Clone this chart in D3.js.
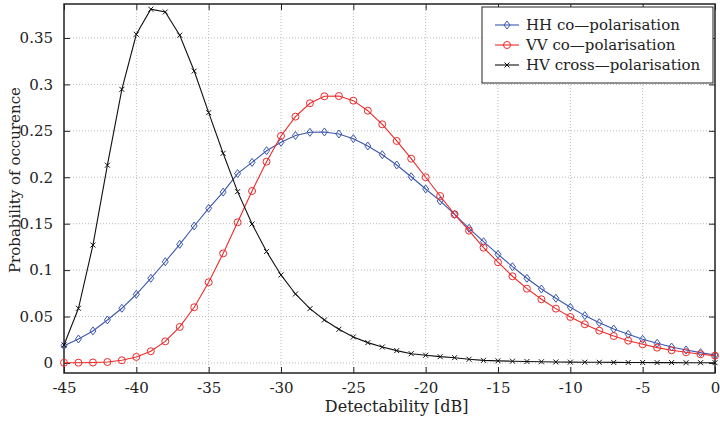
<!DOCTYPE html>
<html lang="en">
<head>
<meta charset="UTF-8">
<title>Detectability distribution</title>
<script src="https://cdn.jsdelivr.net/npm/d3@7"></script>
<style>
    body { margin: 0; background: #fff; }
    svg text { font-family: "DejaVu Serif", serif; fill: #222; }
</style>
</head>
<body>
<div id="chart"></div>
<script>
// detectability values, one sample per dB
const detectability = d3.range(-45, 1);

const hhValues = [0.0186, 0.0258, 0.0345, 0.0463, 0.0589, 0.074, 0.0912, 0.109, 0.1278, 0.1475,
    0.1666, 0.184, 0.204, 0.216, 0.2286, 0.2377, 0.245, 0.2484, 0.2488, 0.2466,
    0.2416, 0.2337, 0.2243, 0.2132, 0.2006, 0.1874, 0.1745, 0.160, 0.145, 0.1306,
    0.117, 0.1037, 0.0912, 0.0797, 0.0697, 0.060, 0.051, 0.0434, 0.0366, 0.0309,
    0.0255, 0.0212, 0.0172, 0.014, 0.0111, 0.0086];

const vvValues = [0.0002, 0.0003, 0.0005, 0.001, 0.0029, 0.0065, 0.0126, 0.0233, 0.0388, 0.060,
    0.0869, 0.118, 0.1515, 0.1852, 0.2168, 0.2445, 0.2653, 0.2797, 0.2872, 0.2875,
    0.2825, 0.2717, 0.257, 0.2391, 0.22, 0.20, 0.1798, 0.160, 0.1425, 0.1242,
    0.1085, 0.0934, 0.080, 0.0686, 0.0585, 0.0495, 0.0417, 0.0348, 0.029, 0.024,
    0.0201, 0.0165, 0.0137, 0.0115, 0.0094, 0.0079];

const hvValues = [0.0194, 0.0589, 0.127, 0.213, 0.2947, 0.354, 0.381, 0.378, 0.353, 0.3144,
    0.2696, 0.2258, 0.1845, 0.1497, 0.12, 0.0948, 0.0743, 0.0585, 0.0463, 0.0363,
    0.028, 0.0219, 0.0172, 0.0133, 0.010, 0.0083, 0.0068, 0.0057, 0.004, 0.0028,
    0.0023, 0.0019, 0.0016, 0.0013, 0.0011, 0.0009, 0.0008, 0.0007, 0.0006, 0.0005,
    0.0005, 0.0004, 0.0004, 0.0003, 0.0003, 0.0003];

const xTicks = [-45, -40, -35, -30, -25, -20, -15, -10, -5, 0];
const yTicks = [0, 0.05, 0.1, 0.15, 0.2, 0.25, 0.3, 0.35];

const seriesNames = ["HH co\u2014polarisation", "VV co\u2014polarisation", "HV cross\u2014polarisation"];
const seriesColors = ["#3a57b0", "#ee2a2a", "#111111"];
const seriesMarkers = ["diamond", "circle", "cross"];

const width = 720, height = 422;
const margin = { top: 4, right: 5, bottom: 49, left: 64 };
const fontFamily = "'DejaVu Serif', serif";

const svg = d3.select("#chart").append("svg")
    .attr("width", width)
    .attr("height", height);

const x = d3.scaleLinear().domain([-45, 0]).range([margin.left, width - margin.right]);
const y = d3.scaleLinear().domain([-0.0108, 0.3866]).range([height - margin.bottom, margin.top]);

const plotW = width - margin.left - margin.right;
const plotH = height - margin.top - margin.bottom;

// dotted grid
svg.append("g").selectAll("line")
    .data(xTicks.slice(1, -1))
    .enter().append("line")
    .attr("x1", d => x(d)).attr("x2", d => x(d))
    .attr("y1", margin.top).attr("y2", height - margin.bottom)
    .attr("stroke", "#bbb").attr("stroke-width", 1).attr("stroke-dasharray", "1,2");

svg.append("g").selectAll("line")
    .data(yTicks)
    .enter().append("line")
    .attr("x1", margin.left).attr("x2", width - margin.right)
    .attr("y1", d => y(d)).attr("y2", d => y(d))
    .attr("stroke", "#bbb").attr("stroke-width", 1).attr("stroke-dasharray", "1,2");

// axes with inward ticks (plain hyphen for negatives, like the original)
const xAxis = d3.axisBottom(x).tickValues(xTicks).tickSizeInner(-6).tickSizeOuter(0).tickPadding(9)
    .tickFormat(d => String(d));
const yAxis = d3.axisLeft(y).tickValues(yTicks).tickSizeInner(-6).tickSizeOuter(0).tickPadding(11)
    .tickFormat(d => d === 0 ? "0" : String(+d.toFixed(2)));

const gx = svg.append("g").attr("transform", `translate(0,${height - margin.bottom})`).call(xAxis);
const gy = svg.append("g").attr("transform", `translate(${margin.left},0)`).call(yAxis);

// mirrored ticks on top and right
const gxTop = svg.append("g").attr("transform", `translate(0,${margin.top})`)
    .call(d3.axisTop(x).tickValues(xTicks).tickSizeInner(-6).tickSizeOuter(0).tickFormat(""));
const gyRight = svg.append("g").attr("transform", `translate(${width - margin.right},0)`)
    .call(d3.axisRight(y).tickValues(yTicks).tickSizeInner(-6).tickSizeOuter(0).tickFormat(""));

[gx, gy, gxTop, gyRight].forEach(g => {
    g.attr("font-family", null);
    g.select(".domain").remove();
    g.selectAll(".tick line").attr("stroke", "#222").attr("stroke-width", 1);
    g.selectAll(".tick text")
        .style("font-family", fontFamily)
        .style("font-size", "15px").attr("fill", "#222");
});

// plot box
svg.append("rect")
    .attr("x", margin.left).attr("y", margin.top)
    .attr("width", plotW).attr("height", plotH)
    .attr("fill", "none").attr("stroke", "#222").attr("stroke-width", 1.5);

// axis labels
svg.append("text")
    .attr("x", x(-22)).attr("y", 412)
    .attr("text-anchor", "middle")
    .style("font-family", fontFamily)
    .style("font-size", "16px")
    .text("Detectability [dB]");

svg.append("text")
    .attr("transform", `translate(20,${y(0.197)}) rotate(-90)`)
    .attr("text-anchor", "middle")
    .style("font-family", fontFamily)
    .style("font-size", "15px")
    .text("Probability of occurence");

const allSeries = [hhValues, vvValues, hvValues];

const line = d3.line()
    .x((d, i) => x(detectability[i]))
    .y(d => y(d));

function drawMarker(g, kind, color, cx, cy) {
    if (kind === "diamond") {
        g.append("path")
            .attr("d", `M${cx},${cy - 4}L${cx + 3},${cy}L${cx},${cy + 4}L${cx - 3},${cy}Z`)
            .attr("fill", "none").attr("stroke", color).attr("stroke-width", 1);
    } else if (kind === "circle") {
        g.append("circle").attr("cx", cx).attr("cy", cy).attr("r", 3.5)
            .attr("fill", "none").attr("stroke", color).attr("stroke-width", 1);
    } else {
        g.append("path")
            .attr("d", `M${cx - 2.5},${cy - 2.5}L${cx + 2.5},${cy + 2.5}M${cx - 2.5},${cy + 2.5}L${cx + 2.5},${cy - 2.5}`)
            .attr("stroke", color).attr("stroke-width", 1);
    }
}

allSeries.forEach((vals, k) => {
    const g = svg.append("g");
    g.append("path")
        .datum(vals)
        .attr("fill", "none")
        .attr("stroke", seriesColors[k])
        .attr("stroke-width", 1.1)
        .attr("d", line);
    vals.forEach((v, i) => drawMarker(g, seriesMarkers[k], seriesColors[k], x(detectability[i]), y(v)));
});

// legend
const legend = svg.append("g").attr("transform", "translate(482,7)");
legend.append("rect")
    .attr("width", 231).attr("height", 76)
    .attr("fill", "#fff").attr("stroke", "#222").attr("stroke-width", 1);

seriesNames.forEach((name, k) => {
    const ly = 18 + k * 20;
    legend.append("line")
        .attr("x1", 13).attr("x2", 37).attr("y1", ly).attr("y2", ly)
        .attr("stroke", seriesColors[k]).attr("stroke-width", 1.1);
    drawMarker(legend, seriesMarkers[k], seriesColors[k], 25, ly);
    legend.append("text")
        .attr("x", 44).attr("y", ly + 5)
        .style("font-family", fontFamily)
        .style("font-size", "15px")
        .text(name);
});
</script>
</body>
</html>
